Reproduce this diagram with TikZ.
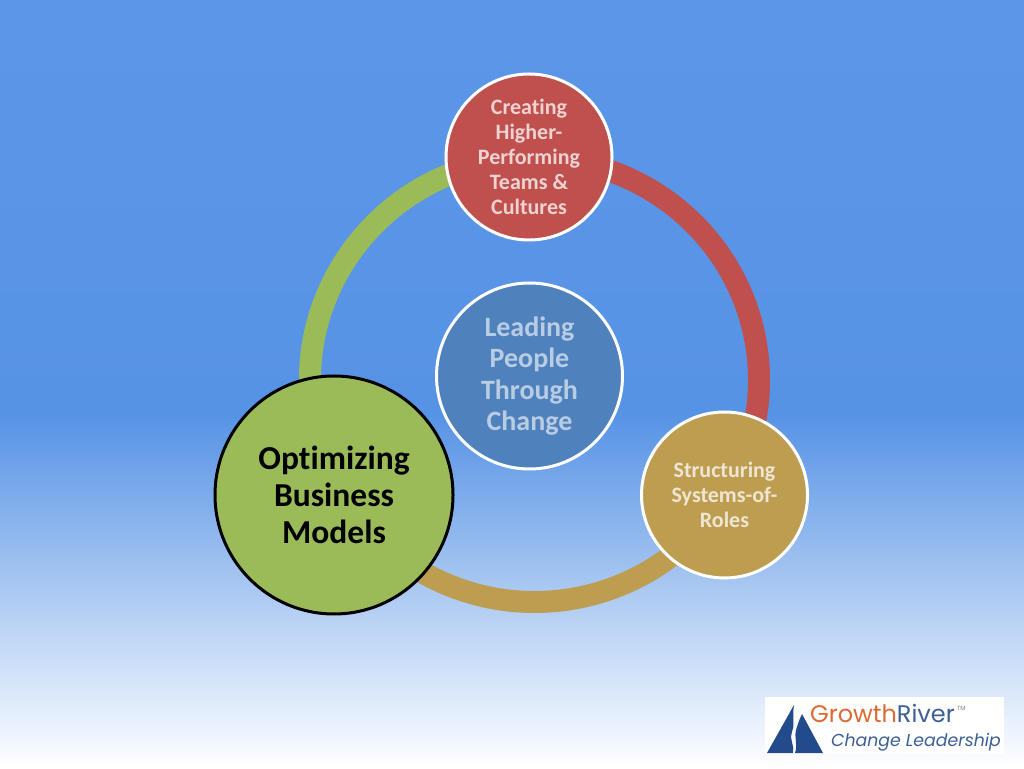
\documentclass[tikz,border=0pt]{standalone}
\usepackage{fontspec}
\setmainfont[Ligatures=NoCommon]{Carlito}
\newfontfamily\logofont{Poppins}
\definecolor{bgtop}{RGB}{92,150,232}
\definecolor{bgmid}{RGB}{87,147,229}
\definecolor{cred}{RGB}{192,80,77}
\definecolor{cgreen}{RGB}{155,187,89}
\definecolor{cgold}{RGB}{189,157,80}
\definecolor{cblue}{RGB}{79,129,189}
\definecolor{logoorange}{RGB}{222,105,50}
\definecolor{logoblue}{RGB}{35,75,140}
\definecolor{logotext}{RGB}{60,95,150}
\tikzset{
  x=1pt,y=1pt,
  ringpart/.style={line width=22pt,line cap=butt},
  bubble/.style={circle,draw=white,line width=3pt,inner sep=0pt,align=center},
  smalltext/.style={text=white,text opacity=0.75,font=\fontsize{22}{25}\selectfont\bfseries},
}
\begin{document}
\begin{tikzpicture}
\useasboundingbox (0,0) rectangle (1024,768);
\shade[top color=bgtop,bottom color=bgmid] (0,352) rectangle (1024,768);
\shade[top color=bgmid,bottom color=white] (0,0) rectangle (1024,353);
\coordinate (ringc) at (534.5,388);
\draw[ringpart,cred] ([shift={(85:224.5pt and 222pt)}]ringc) arc[start angle=85,end angle=-25,x radius=224.5pt,y radius=222pt];
\draw[ringpart,cgold] ([shift={(-20:224.5pt and 222pt)}]ringc) arc[start angle=-20,end angle=-135,x radius=224.5pt,y radius=222pt];
\draw[ringpart,cgreen] ([shift={(185:224.5pt and 222pt)}]ringc) arc[start angle=185,end angle=95,x radius=224.5pt,y radius=222pt];
\node[bubble,fill=cred,minimum size=166pt,smalltext] (teams) at (529,611) {Creating\\Higher-\\Performing\\Teams \&\\Cultures};
\node[bubble,fill=cblue,minimum size=186pt,text=white,text opacity=0.6,font=\fontsize{28}{31.3}\selectfont\bfseries] (people) at (529.5,392) {Leading\\People\\Through\\Change};
\node[bubble,fill=cgold,minimum size=166pt,smalltext] (roles) at (724.5,273) {Structuring\\Systems-of-\\Roles};
\node[bubble,draw=black,fill=cgreen,minimum size=238pt,text=black,font=\fontsize{33.5}{37}\selectfont\bfseries] (models) at (334,273) {Optimizing\\Business\\Models};
% logo
\node[fill=white,draw=none,minimum width=239pt,minimum height=57pt,inner sep=0pt] (logo) at (884.5,42.5) {};
\fill[logoblue] (767,15) -- (794,63) .. controls (792,50) and (795,42) .. (792,36) .. controls (789,28) and (795,22) .. (793,15) -- cycle;
\fill[logoblue] (802,54) -- (823,15) -- (795,15) .. controls (798,24) and (794,30) .. (796,38) .. controls (798,44) and (799,48) .. (802,54) -- cycle;
\node[anchor=base west,inner sep=0pt,font=\logofont\fontsize{24}{24}\selectfont] (brand) at (810,46) {\textcolor{logoorange}{Growth}\textcolor{logotext}{River}};
\node[anchor=base west,inner sep=0pt,font=\logofont\fontsize{6}{6}\selectfont,text=gray] (tm) at (957,58) {TM};
\node[anchor=base west,inner sep=0pt,font=\logofont\itshape\fontsize{17.3}{19}\selectfont,text=logotext] (slogan) at (831,22) {Change Leadership};
\end{tikzpicture}
\end{document}
